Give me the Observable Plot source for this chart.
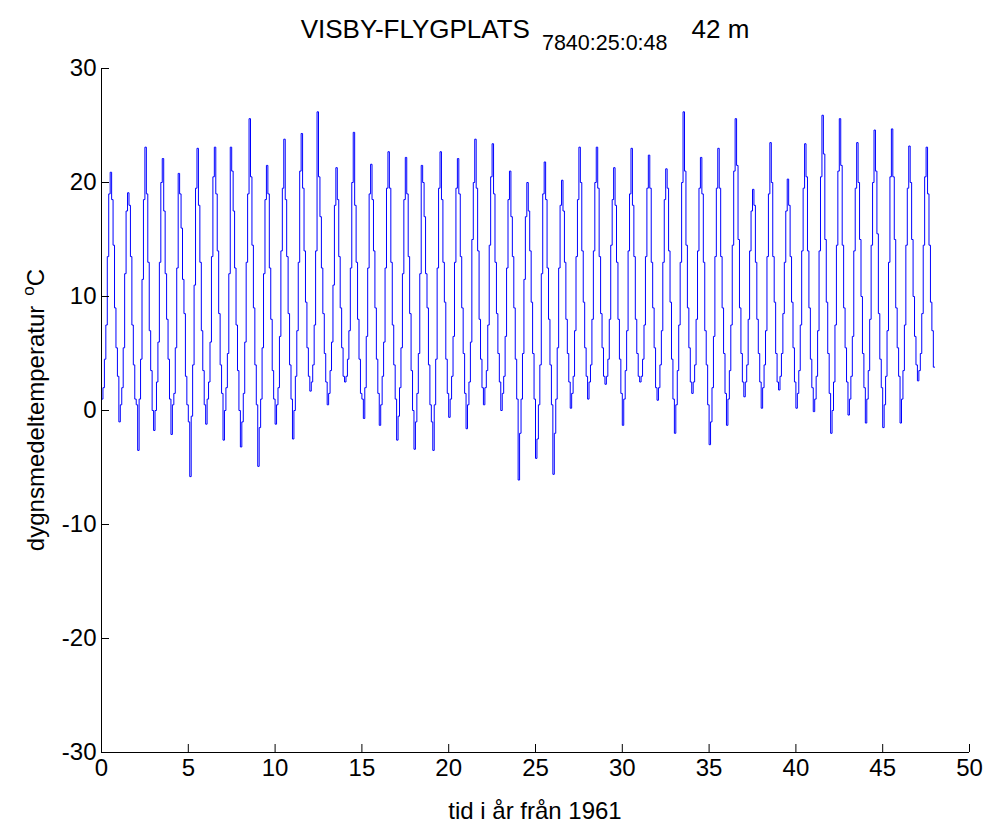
<!DOCTYPE html>
<html><head><meta charset="utf-8">
<script src="https://cdn.jsdelivr.net/npm/d3@7"></script>
<script src="https://cdn.jsdelivr.net/npm/@observablehq/plot@0.6"></script>
<style>body{margin:0;background:#fff} #chart{width:987px;height:823px}</style>
</head><body><div id="chart"></div>
<script>
// Monthly values (Jan..Dec), one row per year
const y1961_1970 = [
  [1.0, 2.0, 4.5, 7.5, 13.5, 19.0, 20.9, 18.5, 14.5, 9.0, 5.5, 3.0],
  [-1.0, 0.5, 2.0, 5.5, 12.0, 17.5, 19.1, 18.0, 13.5, 7.5, 4.0, 1.0],
  [0.5, -3.5, 1.0, 4.5, 11.5, 18.5, 23.1, 19.0, 13.0, 7.0, 3.5, 0.0],
  [-1.75, 0.0, 2.5, 6.0, 13.0, 20.0, 22.1, 17.5, 12.0, 8.0, 4.5, 1.0],
  [-2.1, 0.5, 1.5, 5.5, 12.5, 20.8, 19.0, 16.0, 11.5, 8.5, 3.0, 0.5],
  [-1.0, -5.8, -0.5, 4.0, 11.0, 19.5, 23.0, 18.0, 13.0, 7.0, 3.5, 0.5],
  [-1.2, 1.0, 2.5, 6.0, 13.5, 20.5, 23.1, 19.0, 14.0, 8.5, 4.0, 1.5],
  [-2.6, 0.0, 2.0, 5.0, 12.0, 23.1, 21.0, 17.5, 12.5, 7.5, 3.5, 0.0],
  [-3.2, -1.0, 1.5, 6.0, 13.0, 19.0, 25.6, 20.5, 14.5, 9.0, 4.0, 0.5],
  [-4.9, -1.5, 1.0, 5.5, 12.0, 18.5, 21.5, 19.0, 12.5, 8.0, 3.5, 1.0]
];
const y1971_1980 = [
  [-1.2, 0.5, 2.0, 6.5, 14.0, 19.5, 23.8, 18.5, 13.5, 8.5, 4.0, 1.0],
  [-2.5, 0.0, 3.0, 7.0, 13.0, 21.0, 24.3, 19.5, 14.0, 9.5, 5.5, 3.0],
  [1.7, 2.5, 4.0, 7.5, 14.0, 26.2, 20.5, 17.0, 12.5, 8.5, 5.0, 2.5],
  [0.5, 1.5, 3.5, 6.0, 11.0, 18.0, 21.3, 18.5, 13.5, 9.0, 5.5, 3.0],
  [2.5, 3.0, 4.5, 7.0, 12.5, 20.0, 24.4, 18.0, 13.0, 8.0, 4.5, 1.5],
  [1.0, -0.7, 2.0, 6.5, 12.5, 19.0, 21.6, 18.5, 14.0, 9.0, 4.5, 1.5],
  [-1.3, 0.5, 3.0, 6.0, 12.5, 19.5, 22.7, 19.5, 13.0, 7.5, 4.0, 1.0],
  [-2.6, -0.5, 2.0, 5.5, 12.0, 18.5, 22.2, 19.0, 13.5, 8.5, 3.5, 0.0],
  [-3.4, -1.0, 1.5, 5.0, 12.0, 21.5, 20.0, 17.0, 12.0, 9.0, 4.0, 0.5],
  [-1.0, -3.5, 0.5, 4.5, 12.5, 19.5, 22.7, 18.5, 13.0, 9.5, 4.5, 1.5]
];
const y1981_1990 = [
  [-0.6, 1.0, 3.0, 6.5, 13.0, 19.5, 22.1, 19.0, 13.5, 9.0, 5.0, 1.5],
  [-1.6, 0.5, 2.5, 6.0, 15.0, 20.0, 23.8, 19.5, 14.0, 8.0, 4.5, 2.0],
  [0.5, 2.0, 3.5, 7.5, 14.5, 20.5, 23.4, 19.0, 13.0, 8.5, 5.0, 2.5],
  [0.0, 1.5, 3.0, 6.5, 12.5, 18.5, 21.0, 17.0, 13.5, 9.0, 4.5, 1.0],
  [-6.1, -2.0, 1.0, 5.0, 11.5, 17.0, 20.0, 17.5, 14.0, 9.5, 5.0, 1.0],
  [-4.2, -2.5, 0.5, 4.0, 12.0, 19.0, 21.8, 18.5, 12.5, 8.0, 4.0, 0.5],
  [-5.6, -2.0, 1.0, 5.5, 12.5, 18.0, 20.2, 17.5, 13.0, 8.0, 5.0, 2.5],
  [0.2, 1.5, 3.0, 7.0, 13.5, 18.5, 23.1, 20.0, 14.0, 9.5, 5.5, 3.0],
  [1.0, 2.5, 4.0, 8.0, 14.0, 20.0, 23.1, 19.5, 13.5, 8.5, 5.5, 3.0],
  [2.3, 3.0, 4.5, 8.0, 14.5, 18.5, 21.3, 18.0, 13.0, 8.0, 4.5, 1.5]
];
const y1991_2000 = [
  [-1.3, 1.0, 3.5, 7.0, 14.0, 19.0, 23.0, 18.0, 13.5, 8.0, 5.0, 3.0],
  [2.5, 3.0, 4.5, 7.5, 13.5, 19.5, 22.4, 19.5, 13.0, 9.0, 5.5, 2.0],
  [0.9, 2.0, 4.0, 7.0, 13.0, 18.5, 21.2, 19.5, 14.0, 9.5, 4.5, 1.0],
  [-2.0, 0.5, 3.5, 7.5, 13.0, 20.0, 26.2, 21.0, 14.5, 9.0, 5.5, 2.5],
  [1.5, 2.5, 4.0, 8.0, 14.0, 19.5, 22.2, 19.0, 13.0, 7.0, 4.0, 0.5],
  [-3.0, -1.0, 2.0, 6.5, 13.5, 19.5, 23.0, 19.5, 13.5, 9.0, 5.0, 1.5],
  [-1.3, 1.0, 3.5, 7.5, 14.5, 21.0, 25.6, 21.5, 15.0, 9.0, 5.0, 2.5],
  [1.2, 2.5, 4.0, 8.0, 14.0, 17.5, 19.4, 18.0, 13.0, 8.0, 5.0, 2.5],
  [0.2, 2.0, 4.0, 7.0, 13.5, 19.0, 23.5, 20.0, 13.5, 9.5, 5.0, 2.5],
  [1.8, 3.0, 5.0, 8.5, 13.0, 17.5, 20.3, 18.0, 13.5, 9.5, 5.5, 2.5]
];
const y2001_2008 = [
  [0.2, 1.5, 3.5, 7.5, 14.0, 19.5, 23.4, 20.5, 14.0, 9.0, 4.5, 2.0],
  [-0.1, 1.0, 3.0, 7.0, 14.0, 20.5, 25.9, 22.5, 15.0, 9.5, 5.0, 1.5],
  [-2.0, 0.0, 2.5, 7.5, 14.5, 21.0, 25.6, 21.5, 14.5, 9.0, 5.5, 2.5],
  [-0.4, 1.0, 3.0, 6.5, 14.0, 19.5, 23.5, 20.0, 15.0, 10.0, 5.0, 2.0],
  [-1.1, 1.0, 3.5, 8.0, 14.5, 20.0, 24.6, 21.0, 15.5, 8.5, 4.5, 2.0],
  [-1.5, 0.5, 3.0, 7.0, 13.0, 20.5, 24.7, 20.5, 15.0, 9.0, 5.5, 3.0],
  [-1.1, 1.0, 3.5, 7.5, 14.5, 19.5, 23.2, 20.0, 15.0, 10.0, 6.5, 4.0],
  [2.6, 3.5, 5.0, 8.5, 14.5, 20.5, 23.1, 19.0, 14.5, 9.5, 7.0, 3.8]
];
const lastValue = 3.8;

const xTicks = [0, 5, 10, 15, 20, 25, 30, 35, 40, 45, 50];
const yTicks = [-30, -20, -10, 0, 10, 20, 30];
const xDomain = [0, 50];
const yDomain = [-30, 30];

const titleMain = "VISBY-FLYGPLATS";
const titleSub = "7840:25:0:48";
const titleTail = "42 m";
const xLabel = "tid i år från 1961";
const yLabel = "dygnsmedeltemperatur";

// table built from the arrays
const years = [...y1961_1970, ...y1971_1980, ...y1981_1990, ...y1991_2000, ...y2001_2008];
const data = [];
years.forEach((row, i) => row.forEach((v, m) => data.push({t: i + m / row.length, v})));
data.push({t: years.length, v: lastValue});

const W = 987, H = 823, mL = 101, mR = 18, mT = 68, mB = 71;
const font = "'Liberation Sans', Arial, Helvetica, sans-serif";
const fmt = d => String(d);

const plot = Plot.plot({
  width: W, height: H,
  marginLeft: mL, marginRight: mR, marginTop: mT, marginBottom: mB,
  style: {fontFamily: font, fontSize: "24px", color: "#000", background: "#fff", overflow: "visible"},
  x: {domain: xDomain, label: null},
  y: {domain: yDomain, label: null},
  marks: [
    Plot.line(data, {x: "t", y: "v", curve: "step-after", stroke: "#0000ff", strokeWidth: 1}),
    Plot.ruleX([xDomain[0]], {stroke: "#000", strokeWidth: 1}),
    Plot.ruleY([yDomain[0]], {stroke: "#000", strokeWidth: 1}),
    Plot.axisX(xTicks, {tickSize: -8, tickPadding: 14, label: null, fontSize: 24, stroke: "#000", tickFormat: fmt}),
    Plot.axisY(yTicks, {tickSize: -8, tickPadding: 13, label: null, fontSize: 24, stroke: "#000", tickFormat: fmt})
  ]
});
document.getElementById("chart").appendChild(plot);

const svg = d3.select(plot);
const cx = (mL + W - mR) / 2;
const cy = (mT + H - mB) / 2;

const t = svg.append("text").attr("x", cx - 10).attr("y", 38).attr("text-anchor", "middle")
  .style("font-family", font).style("font-size", "26px").attr("fill", "#000");
t.append("tspan").text(titleMain);
t.append("tspan").attr("dx", 12).attr("dy", 12).style("font-size", "21.5px").text(titleSub);
t.append("tspan").attr("dx", 24).attr("dy", -12).text(titleTail);

svg.append("text").attr("x", cx).attr("y", 819).attr("text-anchor", "middle")
  .style("font-family", font).style("font-size", "24px").attr("fill", "#000").text(xLabel);

const yl = svg.append("text").attr("transform", `translate(44,${cy}) rotate(-90)`).attr("text-anchor", "middle")
  .style("font-family", font).style("font-size", "24px").attr("fill", "#000");
yl.append("tspan").text(yLabel);
yl.append("tspan").attr("dx", 10).attr("dy", -10).style("font-size", "17px").text("o");
yl.append("tspan").attr("dy", 10).text("C");
</script></body></html>
